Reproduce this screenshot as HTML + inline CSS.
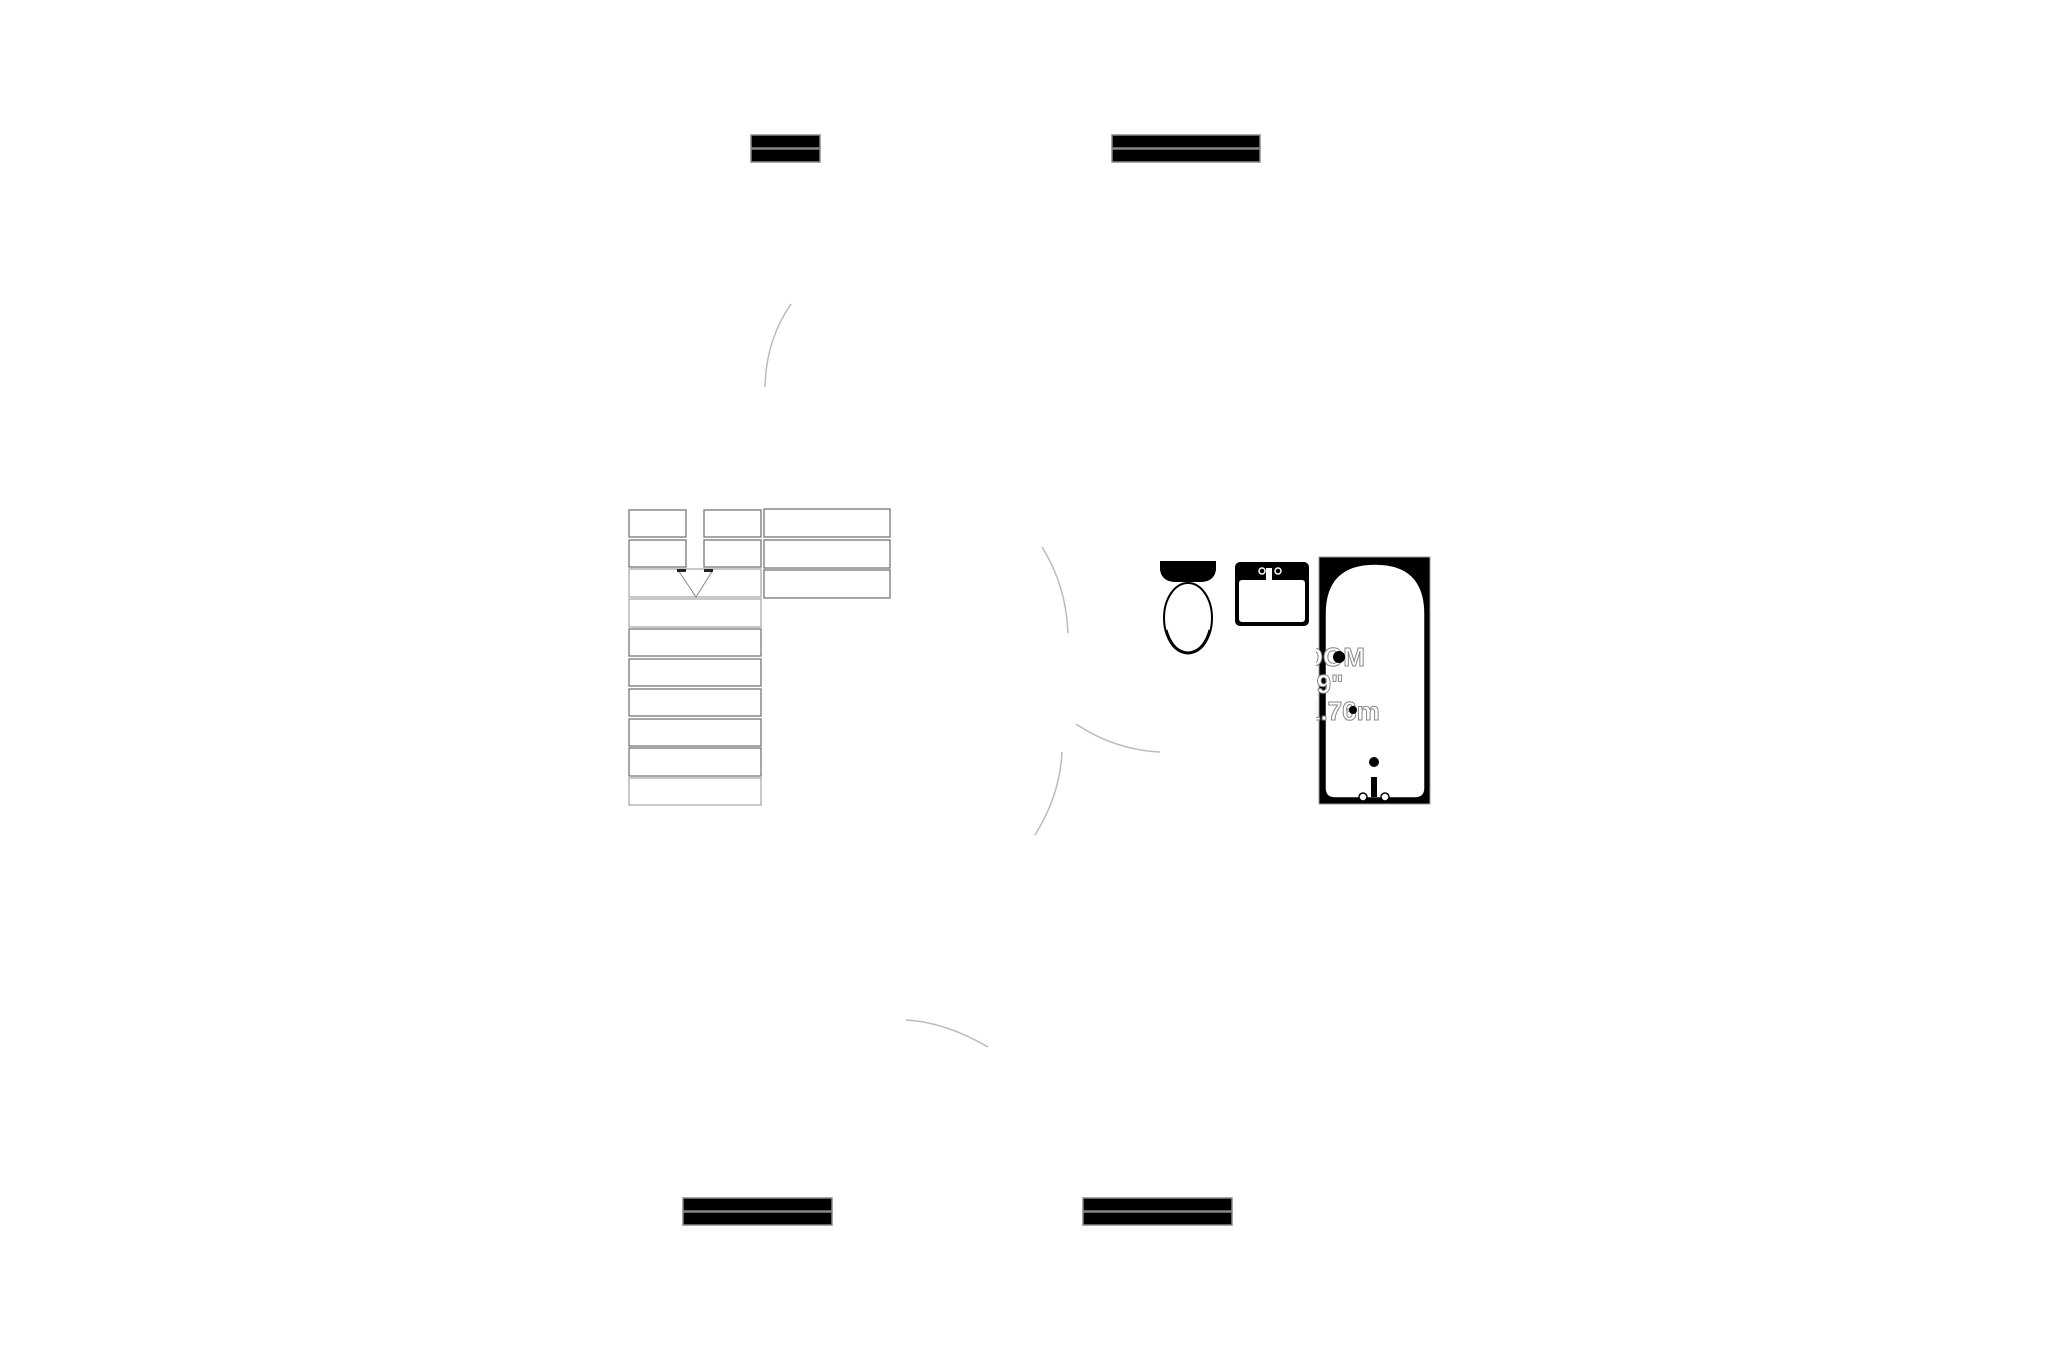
<!DOCTYPE html>
<html><head><style>
html,body{margin:0;padding:0;background:#fff;}
svg{display:block}
</style></head><body>
<svg width="2057" height="1371" viewBox="0 0 2057 1371" xmlns="http://www.w3.org/2000/svg">
<rect width="2057" height="1371" fill="#fff"/>
<g fill="#000" stroke="#888" stroke-width="1.5">
<rect x="751" y="135" width="69" height="13"/><rect x="751" y="149" width="69" height="13"/>
<rect x="1112" y="135" width="148" height="13"/><rect x="1112" y="149" width="148" height="13"/>
<rect x="683" y="1198" width="149" height="13"/><rect x="683" y="1212" width="149" height="13"/>
<rect x="1083" y="1198" width="149" height="13"/><rect x="1083" y="1212" width="149" height="13"/>
</g>
<g fill="none" stroke="#bbb" stroke-width="1.5">
<path d="M791 304 Q766 340 765 387"/>
<path d="M1042 547 Q1066 585 1068 633"/>
<path d="M1076 724 Q1115 750 1160 752"/>
<path d="M1062 752 Q1060 795 1035 835"/>
<path d="M906 1020 Q945 1022 988 1047"/>
</g>
<g fill="#fff" stroke="#777" stroke-width="1.3">
<rect x="629" y="510" width="57" height="27"/><rect x="704" y="510" width="57" height="27"/>
<rect x="629" y="540" width="57" height="27"/><rect x="704" y="540" width="57" height="27"/>
<rect x="629" y="569" width="132" height="28" stroke="#aaa"/>
<rect x="629" y="599" width="132" height="28" stroke="#aaa"/>
<rect x="629" y="629" width="132" height="27"/>
<rect x="629" y="659" width="132" height="27"/>
<rect x="629" y="689" width="132" height="27"/>
<rect x="629" y="719" width="132" height="27"/>
<rect x="629" y="748" width="132" height="28"/>
<rect x="629" y="778" width="132" height="27" stroke="#aaa"/>
<rect x="764" y="509" width="126" height="28"/>
<rect x="764" y="540" width="126" height="28"/>
<rect x="764" y="570" width="126" height="28"/>
</g>
<path d="M678 570 L696 597 L713 570" fill="none" stroke="#888" stroke-width="1"/>
<rect x="677" y="569" width="9" height="3" fill="#222"/><rect x="704" y="569" width="9" height="3" fill="#222"/>
<path d="M1160 561 H1216 V570 Q1214 582 1200 582 H1176 Q1162 582 1160 570Z" fill="#000"/>
<ellipse cx="1188" cy="618" rx="24" ry="35" fill="#fff" stroke="#000" stroke-width="2"/>
<path d="M1166 630 Q1172 652 1188 653 Q1204 652 1210 630" fill="none" stroke="#000" stroke-width="3"/>
<rect x="1235" y="562" width="74" height="64" rx="5" fill="#000"/>
<rect x="1239" y="580" width="66" height="42" rx="3" fill="#fff"/>
<rect x="1266" y="568" width="6" height="18" fill="#fff"/>
<circle cx="1262" cy="571" r="3" fill="none" stroke="#fff" stroke-width="1.5"/>
<circle cx="1278" cy="571" r="3" fill="none" stroke="#fff" stroke-width="1.5"/>
<rect x="1319" y="557" width="111" height="247" fill="#000" stroke="#999"/>
<path d="M1325 614 Q1325 564 1375 564 Q1425 564 1425 614 V788 Q1425 798 1415 798 H1335 Q1325 798 1325 788Z" fill="#fff" stroke="#000" stroke-width="1.5"/>
<circle cx="1374" cy="762" r="5" fill="#000"/>
<rect x="1371" y="777" width="6" height="20" fill="#000"/>
<circle cx="1363" cy="797" r="4" fill="#fff" stroke="#000" stroke-width="1.5"/>
<circle cx="1385" cy="797" r="4" fill="#fff" stroke="#000" stroke-width="1.5"/>
<clipPath id="c"><rect x="1316" y="560" width="120" height="240"/></clipPath>
<g clip-path="url(#c)" font-family="Liberation Sans, sans-serif" font-weight="bold" font-size="26" fill="#fff" stroke="#888" stroke-width="1">
<text x="1284" y="666">ROOM</text>
<text x="1296" y="693">5'9"</text>
<text x="1306" y="720">1.76m</text>
</g>
<circle cx="1339" cy="657" r="6" fill="#000"/>
<circle cx="1353" cy="710" r="4" fill="#000"/>
</svg>
</body></html>
